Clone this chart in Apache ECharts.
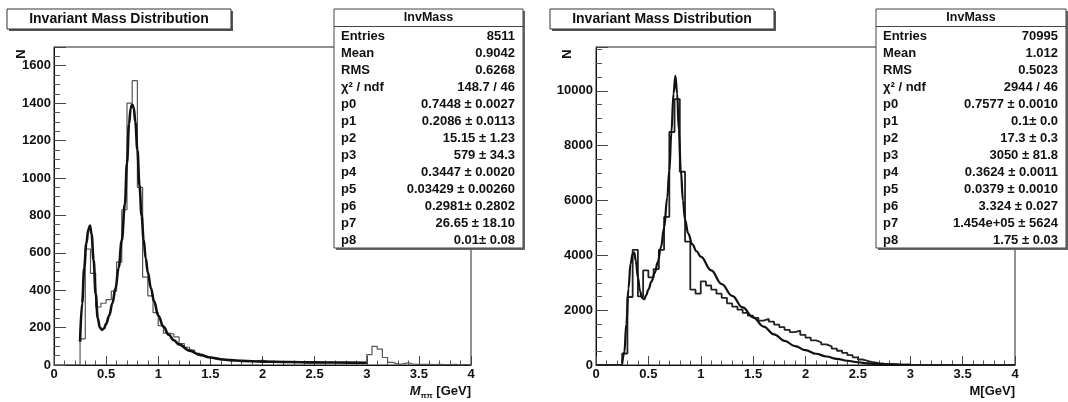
<!DOCTYPE html>
<html><head><meta charset="utf-8">
<script src="https://cdn.jsdelivr.net/npm/echarts@6/dist/echarts.min.js"></script>
<style>html,body{margin:0;padding:0;background:#fff}#c{width:1068px;height:402px}</style>
</head><body><div id="c"></div>
<script>
// ---------------- DATA ----------------
const binEdges = [0.00,0.05,0.10,0.15,0.20,0.25,0.30,0.35,0.40,0.45,0.50,0.55,0.60,0.65,0.70,0.75,0.80,0.85,0.90,0.95,
  1.00,1.05,1.10,1.15,1.20,1.25,1.30,1.35,1.40,1.45,1.50,1.55,1.60,1.65,1.70,1.75,1.80,1.85,1.90,1.95,
  2.00,2.05,2.10,2.15,2.20,2.25,2.30,2.35,2.40,2.45,2.50,2.55,2.60,2.65,2.70,2.75,2.80,2.85,2.90,2.95,
  3.00,3.05,3.10,3.15,3.20,3.25,3.30,3.35,3.40,3.45,3.50,3.55,3.60,3.65,3.70,3.75,3.80,3.85,3.90,3.95,4.00];

const leftCounts = [0,0,0,0,0,140,620,490,310,330,350,395,550,830,1400,1520,950,470,370,280,
  210,170,165,150,115,95,80,62,50,40,32,28,25,22,24,20,22,19,21,26,
  18,16,17,15,17,14,15,13,14,12,13,12,16,12,11,12,11,10,12,11,
  55,100,85,40,14,5,6,12,4,3,4,3,2,3,2,2,3,1,2,1];

const rightCounts = [0,0,0,0,0,420,2480,4200,2500,3450,3200,3500,4200,5400,8500,9700,7050,4500,2750,2600,
  3050,2900,2750,2600,2450,2250,2130,2020,1900,1800,1720,1620,1680,1580,1470,1380,1280,1200,1250,1100,
  1000,900,830,750,680,600,520,440,360,280,200,140,100,70,50,40,30,20,15,10,
  6,4,3,2,2,1,1,1,0,0,0,0,0,0,0,0,0,0,0,0];

const leftFitX = [0.25,0.27,0.29,0.31,0.33,0.345,0.36,0.38,0.40,0.42,0.44,0.46,0.48,0.50,0.53,0.56,0.59,0.62,0.65,0.68,
  0.70,0.72,0.735,0.75,0.765,0.78,0.80,0.82,0.84,0.86,0.88,0.90,0.93,0.96,1.00,1.05,1.10,1.15,1.20,1.30,
  1.40,1.50,1.60,1.70,1.80,2.00,2.25,2.50,2.75,3.00];
const leftFitY = [125,330,520,650,725,745,700,560,380,250,200,188,195,220,265,330,410,520,665,860,
  1080,1290,1370,1393,1375,1300,1150,960,800,670,570,495,410,340,265,205,162,132,110,77,
  54,40,31,26,22,18,16,14,13,12];

const rightFitX = [0.25,0.27,0.29,0.31,0.33,0.35,0.365,0.38,0.40,0.42,0.44,0.46,0.48,0.50,0.53,0.56,0.59,0.62,0.65,0.68,
  0.70,0.72,0.74,0.7577,0.775,0.79,0.81,0.83,0.85,0.88,0.92,0.96,1.00,1.10,1.20,1.30,1.40,1.50,1.60,1.70,
  1.80,1.90,2.00,2.10,2.20,2.30,2.40,2.50,2.60,2.70,2.80,2.90,3.00];
const rightFitY = [60,450,1500,2800,3700,4050,4100,3800,3200,2700,2450,2400,2550,2750,3050,3350,3750,4300,5000,6100,
  7100,8500,9900,10550,9900,8600,7100,6000,5300,4800,4400,4150,3950,3450,2950,2520,2100,1740,1400,1120,
  880,690,540,410,310,225,155,100,58,30,15,7,3];

const panelTitle = 'Invariant Mass Distribution';
const statHeader = 'InvMass';
const statLabels = ['Entries','Mean','RMS','\u03C7\u00B2 / ndf','p0','p1','p2','p3','p4','p5','p6','p7','p8'];
const leftStatValues = ['8511','0.9042','0.6268','148.7 / 46','0.7448 \u00B1 0.0027','0.2086 \u00B1 0.0113','15.15 \u00B1 1.23',
  '579 \u00B1 34.3','0.3447 \u00B1 0.0020','0.03429 \u00B1 0.00260','0.2981\u00B1 0.2802','26.65 \u00B1 18.10','0.01\u00B1 0.08'];
const rightStatValues = ['70995','1.012','0.5023','2944 / 46','0.7577 \u00B1 0.0010','0.1\u00B1 0.0','17.3 \u00B1 0.3',
  '3050 \u00B1 81.8','0.3624 \u00B1 0.0011','0.0379 \u00B1 0.0010','3.324 \u00B1 0.027','1.454e+05 \u00B1 5624','1.75 \u00B1 0.03'];
const yTitle = 'N';

// ---------------- RENDER ----------------
const FONT = '"Liberation Sans", Arial, Helvetica, sans-serif';
const chart = echarts.init(document.getElementById('c'), null, {renderer: 'canvas'});

function histData(counts) {
  return binEdges.map((e, i) => [e, counts[Math.min(i, counts.length - 1)]]);
}
function pairs(xs, ys) { return xs.map((x, i) => [x, ys[i]]); }
const plain = v => String(v);

function xAxis(gi) {
  return {
    type: 'value', gridIndex: gi, min: 0, max: 4, interval: 0.5,
    axisLine: {show: true, onZero: false, lineStyle: {color: '#111', width: 1}},
    axisTick: {show: true, inside: true, length: 9, lineStyle: {color: '#444', width: 1}},
    minorTick: {show: true, splitNumber: 5, length: 4.5, lineStyle: {color: '#555', width: 1}},
    splitLine: {show: false},
    axisLabel: {margin: 3, color: '#111', fontFamily: FONT, fontWeight: 'bold', fontSize: 13,
      showMinLabel: true, showMaxLabel: true, formatter: plain}
  };
}
function yAxis(gi, max, interval) {
  return {
    type: 'value', gridIndex: gi, min: 0, max: max, interval: interval,
    axisLine: {show: true, onZero: false, lineStyle: {color: '#111', width: 1}},
    axisTick: {show: true, inside: true, length: 12, lineStyle: {color: '#444', width: 1}},
    minorTick: {show: true, splitNumber: 4, length: 6, lineStyle: {color: '#555', width: 1}},
    splitLine: {show: false},
    axisLabel: {margin: 3, color: '#111', fontFamily: FONT, fontWeight: 'bold', fontSize: 13,
      showMaxLabel: false, formatter: plain}
  };
}

function txt(x, y, text, opts) {
  opts = opts || {};
  return {
    type: 'text', x: x, y: y, z: opts.z || 110, rotation: opts.rotation || 0, silent: true,
    style: Object.assign({
      text: text, fill: '#111',
      font: (opts.weight || 'bold') + ' ' + (opts.size || 13) + 'px ' + FONT,
      align: opts.align || 'left', verticalAlign: 'middle',
      textAlign: opts.align || 'left', textVerticalAlign: 'middle'
    }, opts.style || {})
  };
}
function rect(x, y, w, h, fill, stroke, lw, z) {
  return {type: 'rect', z: z || 100, silent: true, shape: {x: x, y: y, width: w, height: h},
    style: {fill: fill, stroke: stroke || null, lineWidth: lw || 0}};
}
function line(x1, y1, x2, y2, color, lw, z) {
  return {type: 'line', z: z || 105, silent: true, shape: {x1: x1, y1: y1, x2: x2, y2: y2},
    style: {stroke: color, lineWidth: lw}};
}

function titleBox(x, w) {
  return [
    rect(x + 2, 11, w, 20, '#555', null, 0, 99),
    rect(x, 9, w, 20, '#fff', '#333', 1, 100),
    txt(x + w / 2, 19.5, panelTitle, {align: 'center', size: 14})
  ];
}
function statBox(x, w, values) {
  const els = [
    rect(x + 2, 11, w, 239, '#666', null, 0, 99),
    rect(x, 9, w, 239, '#fff', '#444', 1, 100),
    line(x, 26.5, x + w, 26.5, '#444', 1),
    txt(x + w / 2, 18, statHeader, {align: 'center', size: 12.5})
  ];
  statLabels.forEach((lab, i) => {
    const y = 36 + 17 * i;
    els.push(txt(x + 7, y, lab, {size: 13}));
    els.push(txt(x + w - 8, y, values[i], {align: 'right', size: 13}));
  });
  return els;
}

const graphics = [].concat(
  titleBox(7, 224), titleBox(550, 224),
  statBox(334, 189, leftStatValues), statBox(876, 190, rightStatValues),
  [
    txt(21, 54, yTitle, {align: 'center', size: 13, rotation: Math.PI / 2}),
    txt(567, 54, yTitle, {align: 'center', size: 13, rotation: Math.PI / 2}),
    {
      type: 'text', x: 471, y: 391, z: 110, silent: true,
      style: {
        text: '{m|M}{s|\u03C0\u03C0}{g| [GeV]}', align: 'right', verticalAlign: 'middle',
        textAlign: 'right', textVerticalAlign: 'middle', fill: '#111',
        rich: {
          m: {fontFamily: FONT, fontWeight: 'bold', fontStyle: 'italic', fontSize: 13, lineHeight: 18, verticalAlign: 'middle', fill: '#111'},
          s: {fontFamily: FONT, fontWeight: 'bold', fontSize: 8, lineHeight: 18, verticalAlign: 'bottom', fill: '#111'},
          g: {fontFamily: FONT, fontWeight: 'bold', fontSize: 13, lineHeight: 18, verticalAlign: 'middle', fill: '#111'}
        }
      }
    },
    txt(1015, 391, 'M[GeV]', {align: 'right', size: 13})
  ]
);

const option = {
  animation: false,
  backgroundColor: '#fff',
  grid: [
    {left: 54, top: 47, width: 417, height: 318, show: true, borderColor: '#222', borderWidth: 1, backgroundColor: 'transparent'},
    {left: 596, top: 47, width: 419, height: 318, show: true, borderColor: '#222', borderWidth: 1, backgroundColor: 'transparent'}
  ],
  xAxis: [xAxis(0), xAxis(1)],
  yAxis: [yAxis(0, 1700, 200), yAxis(1, 11600, 2000)],
  series: [
    {type: 'line', xAxisIndex: 0, yAxisIndex: 0, step: 'end', data: histData(leftCounts),
      symbol: 'none', lineStyle: {color: '#555', width: 1.2}, z: 3},
    {type: 'line', xAxisIndex: 0, yAxisIndex: 0, data: pairs(leftFitX, leftFitY), smooth: 0.4, smoothMonotone: 'x',
      symbol: 'none', lineStyle: {color: '#111', width: 2.6}, z: 4},
    {type: 'line', xAxisIndex: 1, yAxisIndex: 1, step: 'end', data: histData(rightCounts),
      symbol: 'none', lineStyle: {color: '#222', width: 1.8}, z: 3},
    {type: 'line', xAxisIndex: 1, yAxisIndex: 1, data: pairs(rightFitX, rightFitY), smooth: 0.4, smoothMonotone: 'x',
      symbol: 'none', lineStyle: {color: '#111', width: 2.2}, z: 4}
  ],
  graphic: {elements: graphics}
};
chart.setOption(option);
</script>
</body></html>
